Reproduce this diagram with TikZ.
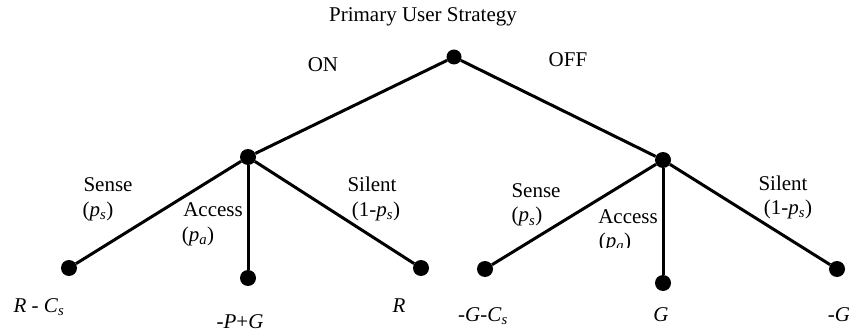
\documentclass[tikz,border=0pt]{standalone}
\usepackage{fontspec}
\setmainfont{Liberation Serif}
\begin{document}
\begin{tikzpicture}[x=1pt,y=-1pt,
  dot/.style={circle,fill=black,inner sep=0pt,minimum size=16pt},
  edge/.style={line width=3pt},
  lbl/.style={anchor=base,inner sep=0pt,font=\fontsize{21}{25}\selectfont}]
\useasboundingbox (0,0) rectangle (849,334);
% tree nodes
\node[dot,minimum size=15pt] (root) at (454,57) {};
\node[dot] (on) at (248,157) {};
\node[dot] (off) at (663,160) {};
\node[dot] (a1) at (69,268) {};
\node[dot] (a2) at (248,278) {};
\node[dot] (a3) at (421,268) {};
\node[dot] (b1) at (485,269) {};
\node[dot] (b2) at (663,283) {};
\node[dot] (b3) at (837,269) {};
% connectors
\draw[edge] (root) -- (on);
\draw[edge] (root) -- (off);
\draw[edge] (on) -- (a1);
\draw[edge] (on) -- (a2);
\draw[edge] (on) -- (a3);
\draw[edge] (off) -- (b1);
\draw[edge] (off) -- (b2);
\draw[edge] (off) -- (b3);
% labels
\node[lbl] (title) at (423,22) {Primary User Strategy};
\node[lbl] (lon) at (323,72) {ON};
\node[lbl] (loff) at (568,67) {OFF};
\node[lbl] (s1) at (108,192) {Sense};
\node[lbl] (s1p) at (98,216) {(\textit{p}\textsubscript{\textit{s}})};
\node[lbl] (c1) at (213,216) {Access};
\node[lbl] (c1p) at (198,241) {(\textit{p}\textsubscript{\textit{a}})};
\node[lbl] (q1) at (372,192) {Silent};
\node[lbl] (q1p) at (376,216) {(1-\textit{p}\textsubscript{\textit{s}})};
\node[lbl] (s2) at (536,197) {Sense};
\node[lbl] (s2p) at (527,222) {(\textit{p}\textsubscript{\textit{s}})};
\node[lbl] (c2) at (628,223) {Access};
\begin{scope}
\clip (580,228) rectangle (660,247);
\node[lbl] (c2p) at (615,247) {(\textit{p}\textsubscript{\textit{a}})};
\end{scope}
\node[lbl] (q2) at (783,190) {Silent};
\node[lbl] (q2p) at (788,214) {(1-\textit{p}\textsubscript{\textit{s}})};
% payoffs
\node[lbl] (pa1) at (39,312) {\textit{R} - \textit{C}\textsubscript{\textit{s}}};
\node[lbl] (pa2) at (240,328) {-\textit{P}+\textit{G}};
\node[lbl] (pa3) at (399,312) {\textit{R}};
\node[lbl] (pb1) at (483,321) {-\textit{G}-\textit{C}\textsubscript{\textit{s}}};
\node[lbl] (pb2) at (661,321) {\textit{G}};
\node[lbl] (pb3) at (839,321) {-\textit{G}};
\end{tikzpicture}
\end{document}
